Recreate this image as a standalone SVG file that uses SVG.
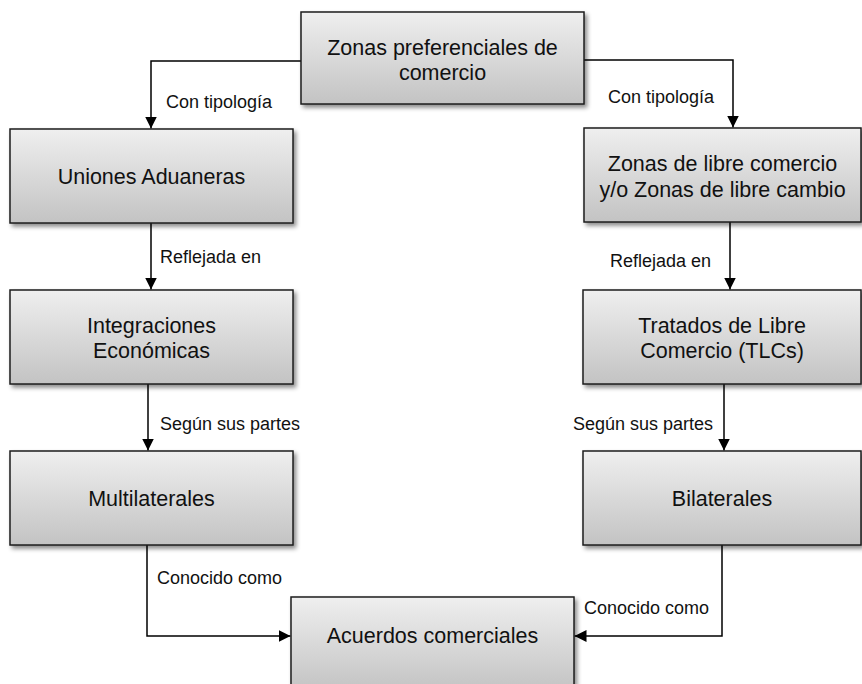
<svg xmlns="http://www.w3.org/2000/svg" width="862" height="684" viewBox="0 0 862 684">
<defs>
<linearGradient id="g" x1="0" y1="0" x2="0" y2="1">
<stop offset="0" stop-color="#efefef"/>
<stop offset="1" stop-color="#c3c3c3"/>
</linearGradient>
<filter id="sh" x="-10%" y="-10%" width="130%" height="130%">
<feDropShadow dx="2.5" dy="3" stdDeviation="2" flood-color="#000" flood-opacity="0.45"/>
</filter>
<marker id="ah" markerUnits="userSpaceOnUse" markerWidth="12" markerHeight="12" refX="11" refY="5.5" orient="auto" viewBox="0 0 11 11">
<path d="M0,0 L11,5.5 L0,11 z" fill="#000"/>
</marker>
</defs>
<style>
.box{fill:url(#g);stroke:#1e1e1e;stroke-width:1.5;filter:url(#sh)}
.t{font-family:"Liberation Sans",Arial,sans-serif;font-size:21.5px;fill:#111;text-anchor:middle}
.l{font-family:"Liberation Sans",Arial,sans-serif;font-size:18px;fill:#111}
.c{fill:none;stroke:#000;stroke-width:1.5;marker-end:url(#ah)}
</style>
<g id="connectors">
<path class="c" d="M301,61 H151 V128.5"/>
<path class="c" d="M584,60 H733 V127.5"/>
<path class="c" d="M151,223 V289.5"/>
<path class="c" d="M730,222 V289.5"/>
<path class="c" d="M148,384 V450.5"/>
<path class="c" d="M724,384 V450.5"/>
<path class="c" d="M147,545 V636 H290.5"/>
<path class="c" d="M722,545 V636 H574.5"/>
<text class="l" x="166" y="108">Con tipología</text>
<text class="l" x="608" y="103">Con tipología</text>
<text class="l" x="160" y="263">Reflejada en</text>
<text class="l" x="610" y="267">Reflejada en</text>
<text class="l" x="160" y="430">Según sus partes</text>
<text class="l" x="573" y="430">Según sus partes</text>
<text class="l" x="157" y="584">Conocido como</text>
<text class="l" x="584" y="614">Conocido como</text>
</g>
<g id="n-zonas-pref">
<rect class="box" x="301" y="12" width="283" height="92"/>
<text class="t" x="442.5" y="55">Zonas preferenciales de</text>
<text class="t" x="442.5" y="80">comercio</text>
</g>
<g id="n-uniones">
<rect class="box" x="10" y="129" width="283" height="94"/>
<text class="t" x="151.5" y="184">Uniones Aduaneras</text>
</g>
<g id="n-zonas-libre">
<rect class="box" x="584" y="128" width="277" height="94"/>
<text class="t" x="722.5" y="171">Zonas de libre comercio</text>
<text class="t" x="722.5" y="197">y/o Zonas de libre cambio</text>
</g>
<g id="n-integraciones">
<rect class="box" x="10" y="290" width="283" height="94"/>
<text class="t" x="151.5" y="333">Integraciones</text>
<text class="t" x="151.5" y="358">Económicas</text>
</g>
<g id="n-tratados">
<rect class="box" x="583" y="290" width="278" height="94"/>
<text class="t" x="722" y="333">Tratados de Libre</text>
<text class="t" x="722" y="358">Comercio (TLCs)</text>
</g>
<g id="n-multilaterales">
<rect class="box" x="10" y="451" width="283" height="94"/>
<text class="t" x="151.5" y="506">Multilaterales</text>
</g>
<g id="n-bilaterales">
<rect class="box" x="583" y="451" width="278" height="94"/>
<text class="t" x="722" y="506">Bilaterales</text>
</g>
<g id="n-acuerdos">
<rect class="box" x="291" y="597" width="283" height="94"/>
<text class="t" x="432.5" y="643">Acuerdos comerciales</text>
</g>
</svg>
